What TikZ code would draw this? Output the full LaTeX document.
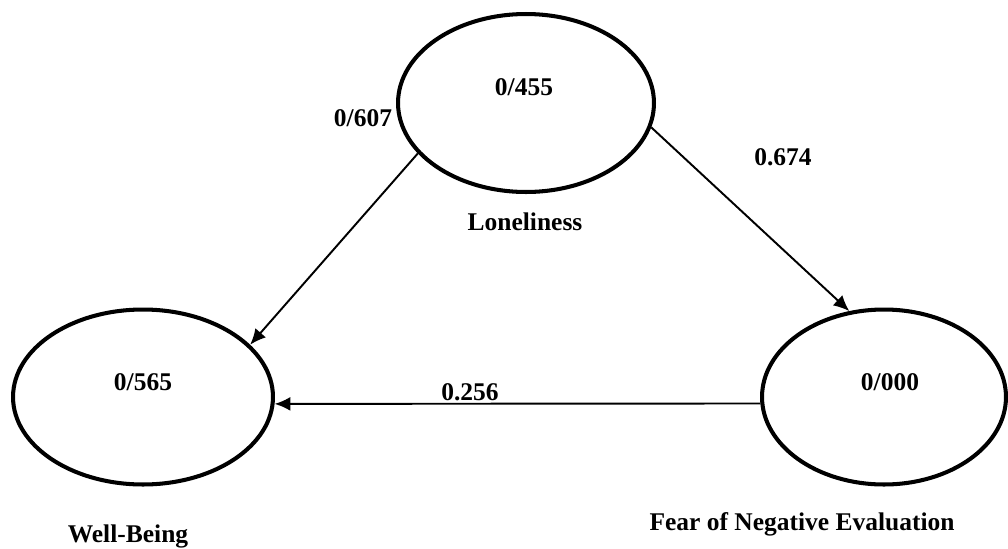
\documentclass[tikz,border=0pt]{standalone}
\usepackage{fontspec}
\setmainfont{Liberation Serif}
\usepackage{tikz}
\usetikzlibrary{arrows.meta, shapes.geometric}

\begin{document}
\begin{tikzpicture}[x=0.02cm, y=-0.02cm,
    latent/.style={ellipse, draw, line width=2.3pt, inner sep=0pt},
    pathline/.style={-{Latex[length=9pt, width=8pt]}, line width=1.1pt},
    lbl/.style={font=\bfseries\fontsize{14.5}{17}\selectfont}]
  \useasboundingbox (0,0) rectangle (1008,548);

  % latent variables
  \node[latent, minimum width=5.12cm, minimum height=3.56cm] (lon) at (526,103) {};
  \node[latent, minimum width=5.2cm, minimum height=3.5cm] (wb) at (143,397) {};
  \node[latent, minimum width=4.88cm, minimum height=3.5cm] (fne) at (884,397) {};

  \node[lbl] (lonval) at (524,87) {0/455};
  \node[lbl] (wbval) at (143,382) {0/565};
  \node[lbl] (fneval) at (890,382) {0/000};

  \node[lbl] (lonname) at (525,222) {Loneliness};
  \node[lbl] (wbname) at (128,536) {Well-Being};
  \node[lbl] (fnename) at (802,524) {Fear of Negative Evaluation};

  % paths
  \draw[pathline] (lon.205) -- (wb.26);
  \draw[pathline] (lon.349) -- (fne.112);
  \draw[pathline] (fne.183) -- (wb.357);

  \node[lbl] (lonwb) at (363,118) {0/607};
  \node[lbl] (lonfne) at (783,157) {0.674};
  \node[lbl] (fnewb) at (470,392) {0.256};
\end{tikzpicture}
\end{document}
